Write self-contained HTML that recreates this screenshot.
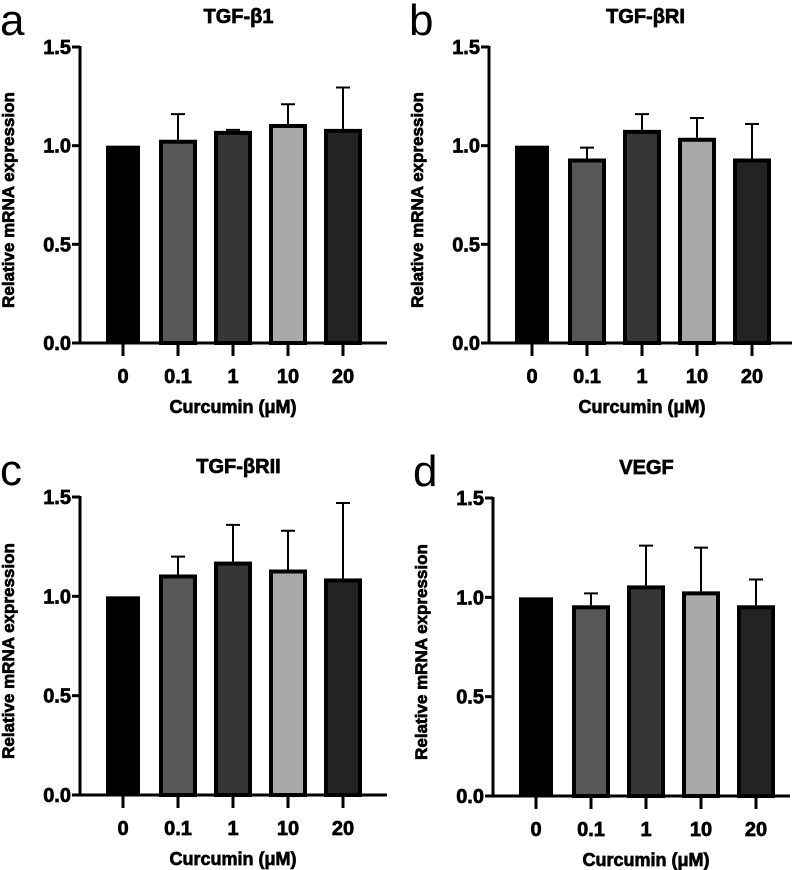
<!DOCTYPE html>
<html><head><meta charset="utf-8">
<style>
html,body{margin:0;padding:0;background:#fff;}
svg{display:block;font-family:"Liberation Sans",Arial,sans-serif;font-weight:bold;}
svg text.b{stroke:#000;stroke-width:0.7px;}
</style></head>
<body>
<svg id="fig" width="797" height="870" viewBox="0 0 797 870" xmlns="http://www.w3.org/2000/svg"></svg>
<script>
const categories = ["0","0.1","1","10","20"];
const yTicks = [0, 0.5, 1.0, 1.5];
const yTickLabels = ["0.0","0.5","1.0","1.5"];
const panelTitles = ["TGF-β1","TGF-βRI","TGF-βRII","VEGF"];
const panelLetters = ["a","b","c","d"];
const meansA = [1, 1.03, 1.075, 1.11, 1.085];
const errA   = [0, 0.13, 0.005, 0.10, 0.21];
const meansB = [1, 0.935, 1.08, 1.04, 0.935];
const errB   = [0, 0.055, 0.08, 0.10, 0.175];
const meansC = [1, 1.11, 1.175, 1.135, 1.09];
const errC   = [0, 0.09, 0.185, 0.195, 0.38];
const meansD = [1, 0.96, 1.06, 1.03, 0.96];
const errD   = [0, 0.06, 0.20, 0.22, 0.13];
const allMeans = [meansA, meansB, meansC, meansD];
const allErr = [errA, errB, errC, errD];
const fills = ["#000","#575757","#363636","#a9a9a9","#232323"];

const svg = document.getElementById('fig');
const NS = "http://www.w3.org/2000/svg";
function mk(tag, attrs, parent){
  const e = document.createElementNS(NS, tag);
  for (const k in attrs) e.setAttribute(k, attrs[k]);
  parent.appendChild(e); return e;
}
const layouts = [
  {ax:80, top:47, bot:343, right:387},
  {ax:489, top:47, bot:343, right:792},
  {ax:80, top:497, bot:795, right:387},
  {ax:493, top:498, bot:796, right:790}
];
layouts.forEach((L, p) => {
  const g = mk('g', {}, svg);
  
  
  const ymax = 1.5;
  const y = v => L.bot - (v / ymax) * (L.bot - L.top);
  const step = 55;
  const x = i => L.ax + 43 + i * step;
  const bw = 34;
  const lt = mk('text', {x: L.ax - 80, y: L.top - 12, 'font-size': 44, 'font-weight': 'normal'}, g);
  lt.textContent = panelLetters[p];
  
  
  const tt = mk('text', {x: (L.ax + L.right) / 2 + 5, y: L.top - 24, 'font-size': 20, 'text-anchor': 'middle', class: 'b'}, g);
  tt.textContent = panelTitles[p];
  
  
  allMeans[p].forEach((m, i) => {
    const cx = x(i);
    const isFirst = i === 0;
    const r = mk('rect', {x: cx - bw/2, y: y(m) + (isFirst?0:2), width: bw, height: L.bot - y(m) - (isFirst?0:2),
      fill: fills[i], stroke: isFirst ? 'none' : '#000', 'stroke-width': isFirst ? 0 : 4}, g);
    
    
    const e = allErr[p][i];
    if (e > 0) {
      const top = y(m + e);
      const eb = mk('path', {d: `M${cx} ${y(m)} V${top} M${cx-7} ${top} H${cx+7}`, stroke: '#000', 'stroke-width': 2, fill: 'none'}, g);
      
      
    }
    const tk = mk('line', {x1: cx, x2: cx, y1: L.bot, y2: L.bot + 13, stroke: '#000', 'stroke-width': 3}, g);
    
    
    const tl = mk('text', {x: cx, y: L.bot + 40, 'font-size': 20, 'text-anchor': 'middle', class: 'b'}, g);
    tl.textContent = categories[i];
    
    
  });
  const axY = mk('line', {x1: L.ax, x2: L.ax, y1: L.top - 1, y2: L.bot + 1.5, stroke: '#000', 'stroke-width': 3}, g);
  
  
  const axX = mk('line', {x1: L.ax - 1.5, x2: L.right, y1: L.bot, y2: L.bot, stroke: '#000', 'stroke-width': 3}, g);
  
  
  yTicks.forEach((v, k) => {
    const t = mk('line', {x1: L.ax - 8, x2: L.ax, y1: y(v), y2: y(v), stroke: '#000', 'stroke-width': 3}, g);
    
    
    const tl = mk('text', {x: L.ax - 9, y: y(v) + 7, 'font-size': 20, 'text-anchor': 'end', class: 'b'}, g);
    tl.textContent = yTickLabels[k];
    
    
  });
  const yl = mk('text', {x: 0, y: 0, 'font-size': 17, 'text-anchor': 'middle', class: 'b',
    transform: `translate(${L.ax - 66},${(L.top + L.bot)/2 + 5}) rotate(-90)`}, g);
  yl.textContent = 'Relative mRNA expression';
  
  
  const xl = mk('text', {x: x(2), y: L.bot + 70, 'font-size': 18, 'text-anchor': 'middle', class: 'b'}, g);
  xl.textContent = 'Curcumin (μM)';
  
  
});
</script>
</body></html>
